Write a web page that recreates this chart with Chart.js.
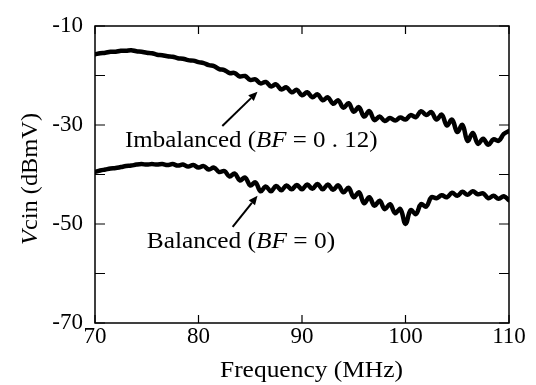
<!DOCTYPE html>
<html>
<head>
<meta charset="utf-8">
<script src="https://cdn.jsdelivr.net/npm/chart.js@4.4.0/dist/chart.umd.min.js"></script>
<style>
body{margin:0;background:#fff;}
#wrap{width:536px;height:385px;position:relative;}
</style>
</head>
<body>
<div id="wrap"><canvas id="c"></canvas></div>
<script>
// frequency axis (MHz)
const freq = [70,70.5,71,71.5,72,72.5,73,73.5,74,74.5,75,75.5,76,76.5,77,77.5,78,78.5,79,79.5,
  80,80.5,81,81.5,82,82.5,83,83.5,84,84.5,85,85.5,86,86.5,87,87.5,88,88.5,89,89.5,
  90,90.5,91,91.5,92,92.5,93,93.5,94,94.5,95,95.5,96,96.5,97,97.5,98,98.5,99,99.5,
  100,100.5,101,101.5,102,102.5,103,103.5,104,104.5,105,105.5,106,106.5,107,107.5,108,108.5,109,109.5,110];

// Vcin, imbalanced case (BF = 0.12)
const imbalanced = [-15.7,-15.5,-15.4,-15.2,-15.2,-15.0,-15.0,-14.9,-15.1,-15.2,
  -15.4,-15.5,-15.8,-15.9,-16.1,-16.2,-16.5,-16.6,-16.9,-17.0,
  -17.3,-17.5,-17.9,-18.1,-18.7,-18.9,-19.5,-19.5,-20.2,-20.1,
  -20.9,-20.8,-21.6,-21.3,-22.2,-21.8,-22.8,-22.4,-23.4,-22.9,
  -24.0,-23.4,-24.4,-23.8,-25.0,-24.4,-25.7,-25.0,-26.5,-25.6,
  -27.3,-26.4,-28.3,-27.2,-29.0,-28.3,-29.2,-28.6,-29.1,-28.5,
  -28.9,-28.0,-28.4,-27.2,-28.0,-27.4,-28.9,-27.9,-30.1,-28.9,
  -31.4,-30.0,-33.2,-31.6,-33.8,-32.8,-34.0,-32.9,-33.2,-31.8,-31.2];

// Vcin, balanced case (BF = 0)
const balanced = [-39.5,-39.2,-39.0,-38.8,-38.7,-38.5,-38.3,-38.2,-38.0,-37.9,
  -38.0,-37.9,-38.0,-37.9,-38.1,-37.9,-38.2,-38.0,-38.4,-38.1,
  -38.6,-38.3,-39.0,-38.6,-39.5,-39.3,-40.4,-39.8,-41.2,-40.6,
  -42.2,-41.6,-43.4,-42.4,-43.4,-42.3,-43.2,-42.2,-43.0,-42.1,
  -43.0,-42.0,-42.9,-41.9,-43.0,-42.0,-43.1,-42.2,-43.6,-42.7,
  -44.6,-43.6,-45.8,-44.6,-46.3,-45.3,-47.0,-46.0,-47.8,-47.0,
  -50.0,-47.2,-48.0,-46.0,-46.5,-44.6,-44.8,-44.2,-44.6,-43.7,
  -44.3,-43.5,-44.1,-43.4,-44.0,-43.8,-44.8,-44.3,-44.9,-44.4,-45.2];

const xTicks = [70,80,90,100,110];
const yTicks = [-70,-60,-50,-40,-30,-20,-10];
const yLabels = [-70,-50,-30,-10];

const serif = '"Liberation Serif", "Times New Roman", serif';

function toPts(ys){
    return freq.map((f,i) => ({x: f, y: ys[i]}));
}

// draws a run of text pieces (mixed italic/upright), fitted between x0 and x1
function drawParts(ctx, parts, x0, x1, yc){
    let w = 0;
    parts.forEach(p => { ctx.font = p.f; p.w = ctx.measureText(p.t).width; w += p.w; });
    const sx = (x1 - x0) / w;
    ctx.save();
    ctx.translate(x0, yc);
    ctx.scale(sx, 1);
    ctx.textBaseline = 'middle';
    ctx.textAlign = 'left';
    ctx.fillStyle = '#000';
    let x = 0;
    parts.forEach(p => { ctx.font = p.f; ctx.fillText(p.t, x, 0); x += p.w; });
    ctx.restore();
}

function arrow(ctx, x0, y0, x1, y1){
    const a = Math.atan2(y1-y0, x1-x0);
    const hl = 9, hw = 4;
    ctx.save();
    ctx.strokeStyle = '#000';
    ctx.fillStyle = '#000';
    ctx.lineWidth = 2;
    ctx.beginPath();
    ctx.moveTo(x0, y0);
    ctx.lineTo(x1 - hl*Math.cos(a), y1 - hl*Math.sin(a));
    ctx.stroke();
    ctx.beginPath();
    ctx.moveTo(x1, y1);
    ctx.lineTo(x1 - hl*Math.cos(a) + hw*Math.sin(a), y1 - hl*Math.sin(a) - hw*Math.cos(a));
    ctx.lineTo(x1 - hl*Math.cos(a) - hw*Math.sin(a), y1 - hl*Math.sin(a) + hw*Math.cos(a));
    ctx.closePath();
    ctx.fill();
    ctx.restore();
}

const decor = {
    id: 'decor',
    afterDraw(chart){
        const ctx = chart.ctx;
        const xs = chart.scales.x, ys = chart.scales.y;
        const a = chart.chartArea;
        const reg = '23px ' + serif, ita = 'italic 23px ' + serif;

        // frame + inward ticks
        ctx.save();
        ctx.strokeStyle = '#000';
        ctx.lineWidth = 1.5;
        ctx.strokeRect(a.left, a.top, a.right - a.left, a.bottom - a.top);
        ctx.lineWidth = 1.2;
        ctx.beginPath();
        xTicks.forEach(v => {
            const px = xs.getPixelForValue(v);
            ctx.moveTo(px, a.bottom); ctx.lineTo(px, a.bottom - 8);
            ctx.moveTo(px, a.top); ctx.lineTo(px, a.top + 8);
        });
        yTicks.forEach(v => {
            const py = ys.getPixelForValue(v);
            ctx.moveTo(a.left, py); ctx.lineTo(a.left + 10, py);
            ctx.moveTo(a.right, py); ctx.lineTo(a.right - 10, py);
        });
        ctx.stroke();
        ctx.restore();

        // curve labels
        drawParts(ctx, [{t:'Imbalanced', f:reg},{t:' (', f:reg},{t:'BF', f:ita},{t:' = 0 . 12)', f:reg}],
            xs.getPixelForValue(72.9), xs.getPixelForValue(97.3), ys.getPixelForValue(-33.2));
        drawParts(ctx, [{t:'Balanced', f:reg},{t:' (', f:reg},{t:'BF', f:ita},{t:' = 0)', f:reg}],
            xs.getPixelForValue(75.0), xs.getPixelForValue(93.2), ys.getPixelForValue(-53.6));

        arrow(ctx, xs.getPixelForValue(82.3), ys.getPixelForValue(-30.2), xs.getPixelForValue(85.7), ys.getPixelForValue(-23.3));
        arrow(ctx, xs.getPixelForValue(83.3), ys.getPixelForValue(-50.6), xs.getPixelForValue(85.7), ys.getPixelForValue(-44.3));

        // axis titles
        drawParts(ctx, [{t:'Frequency', f:reg},{t:' (MHz)', f:reg}], 220, 403, 371);
        ctx.save();
        ctx.translate(31, 179);
        ctx.rotate(-Math.PI/2);
        drawParts(ctx, [{t:'V', f:ita},{t:'cin', f:reg},{t:' (dBmV)', f:reg}], -66, 66, 0);
        ctx.restore();
    }
};

function makeSet(label, ys){
    return {
        label: label,
        data: toPts(ys),
        borderColor: '#000',
        borderWidth: 4.5,
        pointRadius: 0,
        tension: 0.4,
        fill: false,
        borderJoinStyle: 'round',
        borderCapStyle: 'round'
    };
}

new Chart(document.getElementById('c').getContext('2d'), {
    type: 'line',
    data: {
        datasets: [makeSet('Imbalanced (BF = 0.12)', imbalanced), makeSet('Balanced (BF = 0)', balanced)]
    },
    options: {
        responsive: true,
        maintainAspectRatio: false,
        animation: false,
        layout: { padding: { left: 0, top: 26, right: 27, bottom: 0 } },
        plugins: { legend: { display: false }, tooltip: { enabled: false } },
        scales: {
            x: {
                type: 'linear',
                min: 70, max: 110,
                afterFit: s => { s.height = 62; },
                grid: { display: false, drawTicks: false },
                border: { display: false },
                ticks: {
                    stepSize: 10,
                    padding: 0,
                    color: '#000',
                    font: { family: serif, size: 23 },
                    maxRotation: 0
                }
            },
            y: {
                min: -70, max: -10,
                afterFit: s => { s.width = 95; },
                grid: { display: false, drawTicks: false },
                border: { display: false },
                ticks: {
                    stepSize: 10,
                    padding: 12,
                    color: '#000',
                    font: { family: serif, size: 23 },
                    callback: v => yLabels.includes(v) ? String(v) : ''
                }
            }
        }
    },
    plugins: [decor]
});
</script>
</body>
</html>
